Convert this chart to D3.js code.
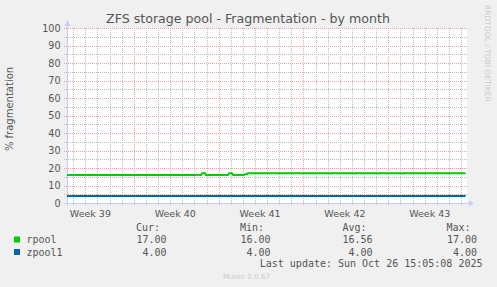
<!DOCTYPE html>
<html>
<head>
<meta charset="utf-8">
<script src="https://cdn.jsdelivr.net/npm/d3@7"></script>
<style>
body { margin: 0; background: #f0f0f0; }
svg { display: block; }
</style>
</head>
<body>
<svg width="497" height="287"></svg>
<script>
// chart data
const title = 'ZFS storage pool - Fragmentation - by month';
const yLabel = '% fragmentation';
const yTicks = [0, 10, 20, 30, 40, 50, 60, 70, 80, 90, 100];
const rangeStart = '2025-09-23T11:45';
const rangeEnd = '2025-10-26T11:45';

const rpoolTimes = ['2025-09-23T11:45', '2025-10-04T13:05', '2025-10-04T15:05', '2025-10-04T21:00', '2025-10-04T23:00',
  '2025-10-06T18:00', '2025-10-06T21:05', '2025-10-07T01:55', '2025-10-07T05:00',
  '2025-10-08T02:00', '2025-10-08T04:00', '2025-10-08T08:00', '2025-10-08T10:00', '2025-10-26T09:05'];
const rpoolValues = [16, 16, 17, 17, 16, 16, 17, 17, 16, 16, 16.5, 16.5, 17, 17];
const zpool1Times = ['2025-09-23T11:45', '2025-10-26T09:05'];
const zpool1Values = [4, 4];

const seriesNames = ['rpool', 'zpool1'];
const seriesColors = ['#00cc00', '#0066b3'];
const statHeaders = ['Cur:', 'Min:', 'Avg:', 'Max:'];
const statCur = ['17.00', '4.00'];
const statMin = ['16.00', '4.00'];
const statAvg = ['16.56', '4.00'];
const statMax = ['17.00', '4.00'];
const lastUpdate = 'Last update: Sun Oct 26 15:05:08 2025';
const muninVersion = 'Munin 2.0.67';
const watermark = 'RRDTOOL / TOBI OETIKER';

let svg = d3.select('svg');
const parse = d3.utcParse('%Y-%m-%dT%H:%M');
const textColor = '#555';
const sans = 'DejaVu Sans';
const mono = 'DejaVu Sans Mono';
const majorGrid = '#e8a4a4';
const minorGrid = '#bcbcbc';

const plotLeft = 67, plotRight = 467, plotTop = 28, plotBottom = 203;

let x = d3.scaleUtc().domain([parse(rangeStart), parse(rangeEnd)]).range([plotLeft, plotRight]);
let y = d3.scaleLinear().domain([0, 100]).range([plotBottom, plotTop]);

// canvas
svg.append('rect')
  .attr('x', plotLeft).attr('y', plotTop)
  .attr('width', plotRight - plotLeft).attr('height', plotBottom - plotTop)
  .attr('fill', '#fff');

// title
svg.append('text')
  .attr('x', 248).attr('y', 22.5)
  .attr('text-anchor', 'middle')
  .style('font-family', sans).style('font-size', '12.6px')
  .attr('fill', textColor)
  .text(title);

// grid lines, minor first so the major ones sit on top
const yMinor = d3.range(0, 101, 5);
const days = d3.utcDay.range(x.domain()[0], x.domain()[1]);

function hLine(v, major) {
  const py = Math.round(y(v)) + 0.5;
  svg.append('line')
    .attr('x1', plotLeft - 3).attr('x2', plotRight)
    .attr('y1', py).attr('y2', py)
    .attr('stroke', major ? majorGrid : minorGrid)
    .attr('stroke-dasharray', '1,1')
    .attr('shape-rendering', 'crispEdges');
}
function vLine(d, major) {
  const px = Math.round(x(d)) + 0.5;
  svg.append('line')
    .attr('x1', px).attr('x2', px)
    .attr('y1', plotTop).attr('y2', plotBottom + (major ? 3 : 2))
    .attr('stroke', major ? majorGrid : minorGrid)
    .attr('stroke-dasharray', '1,1')
    .attr('shape-rendering', 'crispEdges');
}
yMinor.filter(function(v) { return v % 10 !== 0; }).forEach(function(v) { hLine(v, false); });
days.filter(function(d) { return d.getUTCDay() !== 1; }).forEach(function(d) { vLine(d, false); });
yMinor.filter(function(v) { return v % 10 === 0; }).forEach(function(v) { hLine(v, true); });
days.filter(function(d) { return d.getUTCDay() === 1; }).forEach(function(d) { vLine(d, true); });

// y tick labels
yTicks.forEach(function(v) {
  svg.append('text')
    .attr('x', 60.5).attr('y', y(v) + 3.5)
    .attr('text-anchor', 'end')
    .style('font-family', sans).style('font-size', '9.6px')
    .attr('fill', textColor)
    .text(v);
});

// x labels, centred in each week
const weeks = d3.utcMonday.range(d3.utcMonday.floor(x.domain()[0]), x.domain()[1]);
weeks.forEach(function(w) {
  const mid = new Date(w.getTime() + 3.5 * 864e5);
  if (mid < x.domain()[0] || mid > x.domain()[1]) return;
  svg.append('text')
    .attr('x', x(mid) - 1).attr('y', 216.5)
    .attr('text-anchor', 'middle')
    .style('font-family', sans).style('font-size', '9.5px')
    .attr('fill', textColor)
    .text('Week ' + d3.utcFormat('%V')(w));
});

// axes with arrows
const axisColor = '#c5cdf5';
svg.append('line')
  .attr('x1', plotLeft + 0.5).attr('x2', plotLeft + 0.5)
  .attr('y1', plotBottom + 3).attr('y2', plotTop - 4)
  .attr('stroke', axisColor).attr('shape-rendering', 'crispEdges');
svg.append('line')
  .attr('x1', plotLeft - 3).attr('x2', plotRight + 3)
  .attr('y1', plotBottom + 0.5).attr('y2', plotBottom + 0.5)
  .attr('stroke', axisColor).attr('shape-rendering', 'crispEdges');
svg.append('path')
  .attr('d', `M${plotLeft - 2.5},${plotTop - 2} L${plotLeft + 3.5},${plotTop - 2} L${plotLeft + 0.5},${plotTop - 8} Z`)
  .attr('fill', axisColor);
svg.append('path')
  .attr('d', `M${plotRight + 2},${plotBottom - 2.5} L${plotRight + 2},${plotBottom + 3.5} L${plotRight + 7},${plotBottom + 0.5} Z`)
  .attr('fill', axisColor);

// series lines
let line = d3.line()
  .x(function(d) { return x(d.t); })
  .y(function(d) { return y(d.v); });

const series = [
  rpoolTimes.map(function(t, i) { return { t: parse(t), v: rpoolValues[i] }; }),
  zpool1Times.map(function(t, i) { return { t: parse(t), v: zpool1Values[i] }; })
];

svg.selectAll('path.series')
  .data(series)
  .enter()
  .append('path')
    .attr('class', 'series')
    .attr('d', line)
    .attr('fill', 'none')
    .attr('stroke', function(d, i) { return seriesColors[i]; })
    .attr('stroke-width', 2);

// y axis label
svg.append('text')
  .attr('transform', 'translate(12.6,109) rotate(-90)')
  .attr('text-anchor', 'middle')
  .style('font-family', sans).style('font-size', '10px')
  .attr('fill', textColor)
  .text(yLabel);

// watermark
svg.append('text')
  .attr('transform', 'translate(485,5) rotate(90)')
  .style('font-family', sans).style('font-size', '7.5px')
  .attr('fill', '#cccccc')
  .text(watermark);

// legend
const legendFont = '10px';
const headerX = [136, 240, 342.5, 446.5];
const valueRight = [166.5, 270.5, 372.5, 477];
const stats = [statCur, statMin, statAvg, statMax];

statHeaders.forEach(function(h, i) {
  svg.append('text')
    .attr('x', headerX[i]).attr('y', 231)
    .style('font-family', mono).style('font-size', legendFont)
    .attr('fill', textColor)
    .text(h);
});

seriesNames.forEach(function(name, r) {
  const rowY = 243 + r * 12.5;
  svg.append('rect')
    .attr('x', 14).attr('y', rowY - 6.5)
    .attr('width', 6).attr('height', 6)
    .attr('fill', seriesColors[r]);
  svg.append('text')
    .attr('x', 26.5).attr('y', rowY)
    .style('font-family', mono).style('font-size', legendFont)
    .attr('fill', textColor)
    .text(name);
  stats.forEach(function(col, i) {
    svg.append('text')
      .attr('x', valueRight[i]).attr('y', rowY)
      .attr('text-anchor', 'end')
      .style('font-family', mono).style('font-size', legendFont)
      .attr('fill', textColor)
      .text(col[r]);
  });
});

svg.append('text')
  .attr('x', 482.5).attr('y', 267)
  .attr('text-anchor', 'end')
  .style('font-family', mono).style('font-size', legendFont)
  .attr('fill', textColor)
  .text(lastUpdate);

svg.append('text')
  .attr('x', 223).attr('y', 279)
  .style('font-family', sans).style('font-size', '7.2px')
  .attr('fill', '#cccccc')
  .text(muninVersion);
</script>
</body>
</html>
